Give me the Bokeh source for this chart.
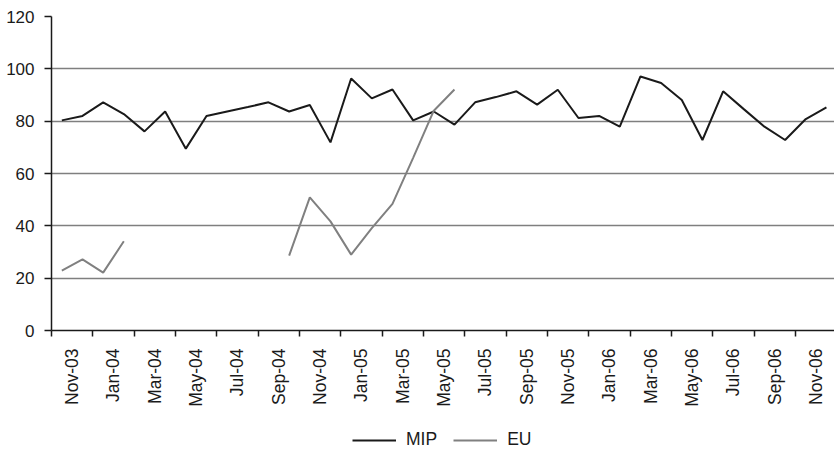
import math
import numpy as np
from bokeh.plotting import figure
from bokeh.layouts import column
from bokeh.models import (Range1d, FixedTicker, Legend, LegendItem, ColumnDataSource)
from bokeh.embed import file_html
from bokeh.resources import INLINE

months = ["Nov-03", "Dec-03", "Jan-04", "Feb-04", "Mar-04", "Apr-04", "May-04", "Jun-04",
          "Jul-04", "Aug-04", "Sep-04", "Oct-04", "Nov-04", "Dec-04", "Jan-05", "Feb-05",
          "Mar-05", "Apr-05", "May-05", "Jun-05", "Jul-05", "Aug-05", "Sep-05", "Oct-05",
          "Nov-05", "Dec-05", "Jan-06", "Feb-06", "Mar-06", "Apr-06", "May-06", "Jun-06",
          "Jul-06", "Aug-06", "Sep-06", "Oct-06", "Nov-06", "Dec-06"]

mip = [80.3, 82.0, 87.2, 82.7, 76.1, 83.7, 69.5, 82.0, 83.7, 85.4, 87.2, 83.7, 86.2,
       71.9, 96.3, 88.7, 92.1, 80.3, 83.7, 78.7, 87.2, 89.2, 91.4, 86.3, 92.0, 81.2,
       82.0, 77.9, 97.1, 94.6, 88.1, 72.8, 91.4, 84.6, 77.9, 72.8, 80.8, 85.3]

nan = float("nan")
eu = [22.9, 27.2, 22.1, 34.1, nan, nan, nan, nan, nan, nan, nan, 28.6, 50.9, 41.7,
      29.0, 39.1, 48.4, 66.0, 84.0, 92.1] + [nan] * 18

series_names = ["MIP", "EU"]
y_ticks = [0, 20, 40, 60, 80, 100, 120]

FONT = "Liberation Sans"
INK = "#1a1a1a"
EU_COL = "#808080"

xpos = [i + 0.5 for i in range(len(months))]
src = ColumnDataSource(data=dict(x=xpos, mip=mip, eu=np.array(eu, dtype=float)))

p = figure(width=834, height=420, output_backend="svg", toolbar_location=None,
           x_range=Range1d(0, 37.89), y_range=Range1d(0, 120),
           min_border_left=51, min_border_right=0, min_border_top=16, min_border_bottom=90)
p.outline_line_color = None
p.background_fill_color = "white"

# y axis
p.yaxis.ticker = FixedTicker(ticks=y_ticks)
p.yaxis.major_tick_out = 7
p.yaxis.major_tick_in = 0
p.yaxis.minor_tick_line_color = None
p.yaxis.major_tick_line_color = INK
p.yaxis.major_tick_line_width = 1.5
p.yaxis.axis_line_color = INK
p.yaxis.axis_line_width = 1.5
p.yaxis.major_label_text_font = FONT
p.yaxis.major_label_text_font_size = "17px"
p.yaxis.major_label_text_color = INK
p.yaxis.major_label_standoff = 10

# x axis: labels centred on each pair of months, tick marks at pair boundaries
label_pos = list(range(1, len(months), 2))
p.xaxis.ticker = FixedTicker(ticks=label_pos, minor_ticks=list(range(0, len(months) + 1, 2)))
p.xaxis.major_label_overrides = {k: months[k - 1] for k in label_pos}
p.xaxis.major_label_orientation = math.pi / 2
p.xaxis.major_tick_line_color = None
p.xaxis.major_tick_out = 6
p.xaxis.major_tick_in = 0
p.xaxis.minor_tick_out = 6
p.xaxis.minor_tick_in = 0
p.xaxis.minor_tick_line_color = INK
p.xaxis.minor_tick_line_width = 1.5
p.xaxis.axis_line_color = INK
p.xaxis.axis_line_width = 1.5
p.xaxis.major_label_text_font = FONT
p.xaxis.major_label_text_font_size = "17.5px"
p.xaxis.major_label_text_color = INK
p.xaxis.major_label_standoff = 12

p.xgrid.grid_line_color = None
p.ygrid.ticker = FixedTicker(ticks=y_ticks)
p.ygrid.grid_line_color = "#7f7f7f"
p.ygrid.grid_line_width = 1.5

p.line("x", "mip", source=src, line_color=INK, line_width=2)
p.line("x", "eu", source=src, line_color=EU_COL, line_width=2)

# legend strip below the chart (its lines fall outside this strip's ranges,
# only the legend samples are visible)
lg = figure(width=834, height=30, output_backend="svg", toolbar_location=None,
            x_range=Range1d(0, 1), y_range=Range1d(0, 1),
            x_axis_location=None, y_axis_location=None, min_border=0)
lg.outline_line_color = None
lg.grid.visible = False
k_mip = lg.line("x", "mip", source=src, line_color=INK, line_width=2)
k_eu = lg.line("x", "eu", source=src, line_color=EU_COL, line_width=2)
legend = Legend(items=[LegendItem(label=series_names[0], renderers=[k_mip]),
                       LegendItem(label=series_names[1], renderers=[k_eu])],
                orientation="horizontal", location=(301, 0),
                glyph_width=44, glyph_height=18, label_height=18,
                label_standoff=10, spacing=16, padding=0, margin=0,
                border_line_color=None, background_fill_alpha=0,
                label_text_font=FONT, label_text_font_size="17.5px",
                label_text_color=INK)
lg.add_layout(legend, "center")

page = column(p, lg, spacing=0)
open("out.html", "w").write(file_html(page, INLINE))
